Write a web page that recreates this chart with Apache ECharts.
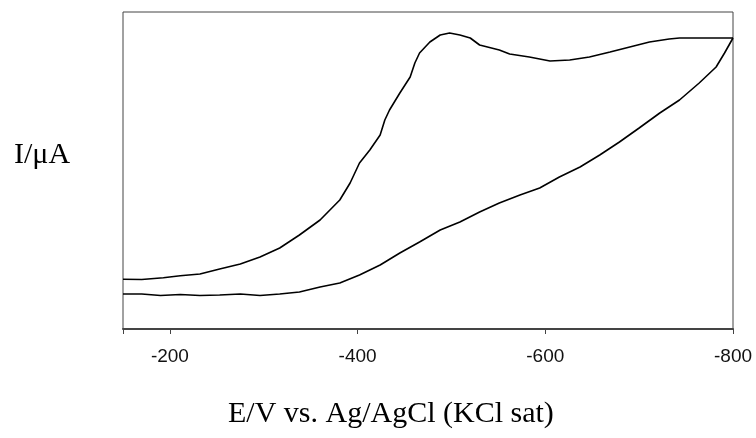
<!DOCTYPE html>
<html>
<head>
<meta charset="utf-8">
<script src="https://cdn.jsdelivr.net/npm/echarts@6/dist/echarts.min.js"></script>
<style>html,body{margin:0;padding:0;background:#fff}#c{width:756px;height:438px}</style>
</head>
<body>
<div id="c"></div>
<script>
// Potential (mV vs Ag/AgCl) and current (arbitrary units)
const forwardE = [-150,-170,-193,-211,-232,-253,-275,-296,-317,-338,-360,-381,-392,-402,-413,-424,-429,-434,-445,-456,-461,-466,-477,-488,-498,-509,-520,-530,-551,-562,-583,-605,-626,-647,-669,-690,-711,-732,-743,-770,-800];
const forwardI = [4.97,4.95,5.13,5.33,5.5,6.0,6.5,7.2,8.1,9.4,10.9,12.9,14.6,16.6,17.9,19.4,20.9,21.9,23.6,25.2,26.6,27.6,28.7,29.4,29.6,29.4,29.1,28.4,27.9,27.5,27.2,26.8,26.9,27.2,27.7,28.2,28.7,29.0,29.1,29.1,29.1];
const reverseE = [-800,-791,-782,-764,-743,-722,-700,-679,-658,-637,-615,-594,-573,-551,-530,-509,-488,-466,-445,-424,-402,-381,-360,-338,-317,-296,-275,-253,-232,-211,-190,-170,-150];
const reverseI = [29.1,27.6,26.2,24.6,22.9,21.6,20.1,18.7,17.4,16.2,15.2,14.1,13.4,12.6,11.7,10.7,9.9,8.7,7.6,6.4,5.4,4.6,4.2,3.7,3.5,3.35,3.5,3.4,3.35,3.45,3.35,3.5,3.5];
const xTicks = [-200,-400,-600,-800];
const xTitle = 'E/V vs. Ag/AgCl (KCl sat)';
const yTitle = 'I/\u03bcA';

const fwd = forwardE.map((e,i)=>[e,forwardI[i]]);
const rev = reverseE.map((e,i)=>[e,reverseI[i]]);

const chart = echarts.init(document.getElementById('c'), null, {renderer:'canvas'});
chart.setOption({
  animation:false,
  backgroundColor:'#fff',
  grid:{left:123,top:12,right:23,bottom:109,containLabel:false,outerBoundsMode:'none',
    show:true,borderColor:'#444',borderWidth:1,backgroundColor:'transparent'},
  xAxis:{
    type:'value', inverse:true, min:-800, max:-150, interval:200,
    axisLine:{show:true,onZero:false,lineStyle:{color:'#444',width:2}},
    axisTick:{show:true,inside:false,length:5,lineStyle:{color:'#444',width:1}},
    axisLabel:{show:true,margin:18,fontFamily:'Liberation Sans',fontSize:19,color:'#111',
      customValues:xTicks},
    splitLine:{show:false}
  },
  yAxis:{
    type:'value', min:0, max:31.7,
    axisLine:{show:false}, axisTick:{show:false}, axisLabel:{show:false}, splitLine:{show:false}
  },
  graphic:[
    {type:'text',left:14,top:140,style:{text:yTitle,font:'30px "Liberation Serif"',fill:'#000'}},
    {type:'text',left:228,top:399,style:{text:xTitle,font:'30px "Liberation Serif"',fill:'#000'}}
  ],
  series:[
    {type:'line',data:fwd,showSymbol:false,lineStyle:{color:'#000',width:1.6},silent:true},
    {type:'line',data:rev,showSymbol:false,lineStyle:{color:'#000',width:1.6},silent:true}
  ]
});
</script>
</body>
</html>
